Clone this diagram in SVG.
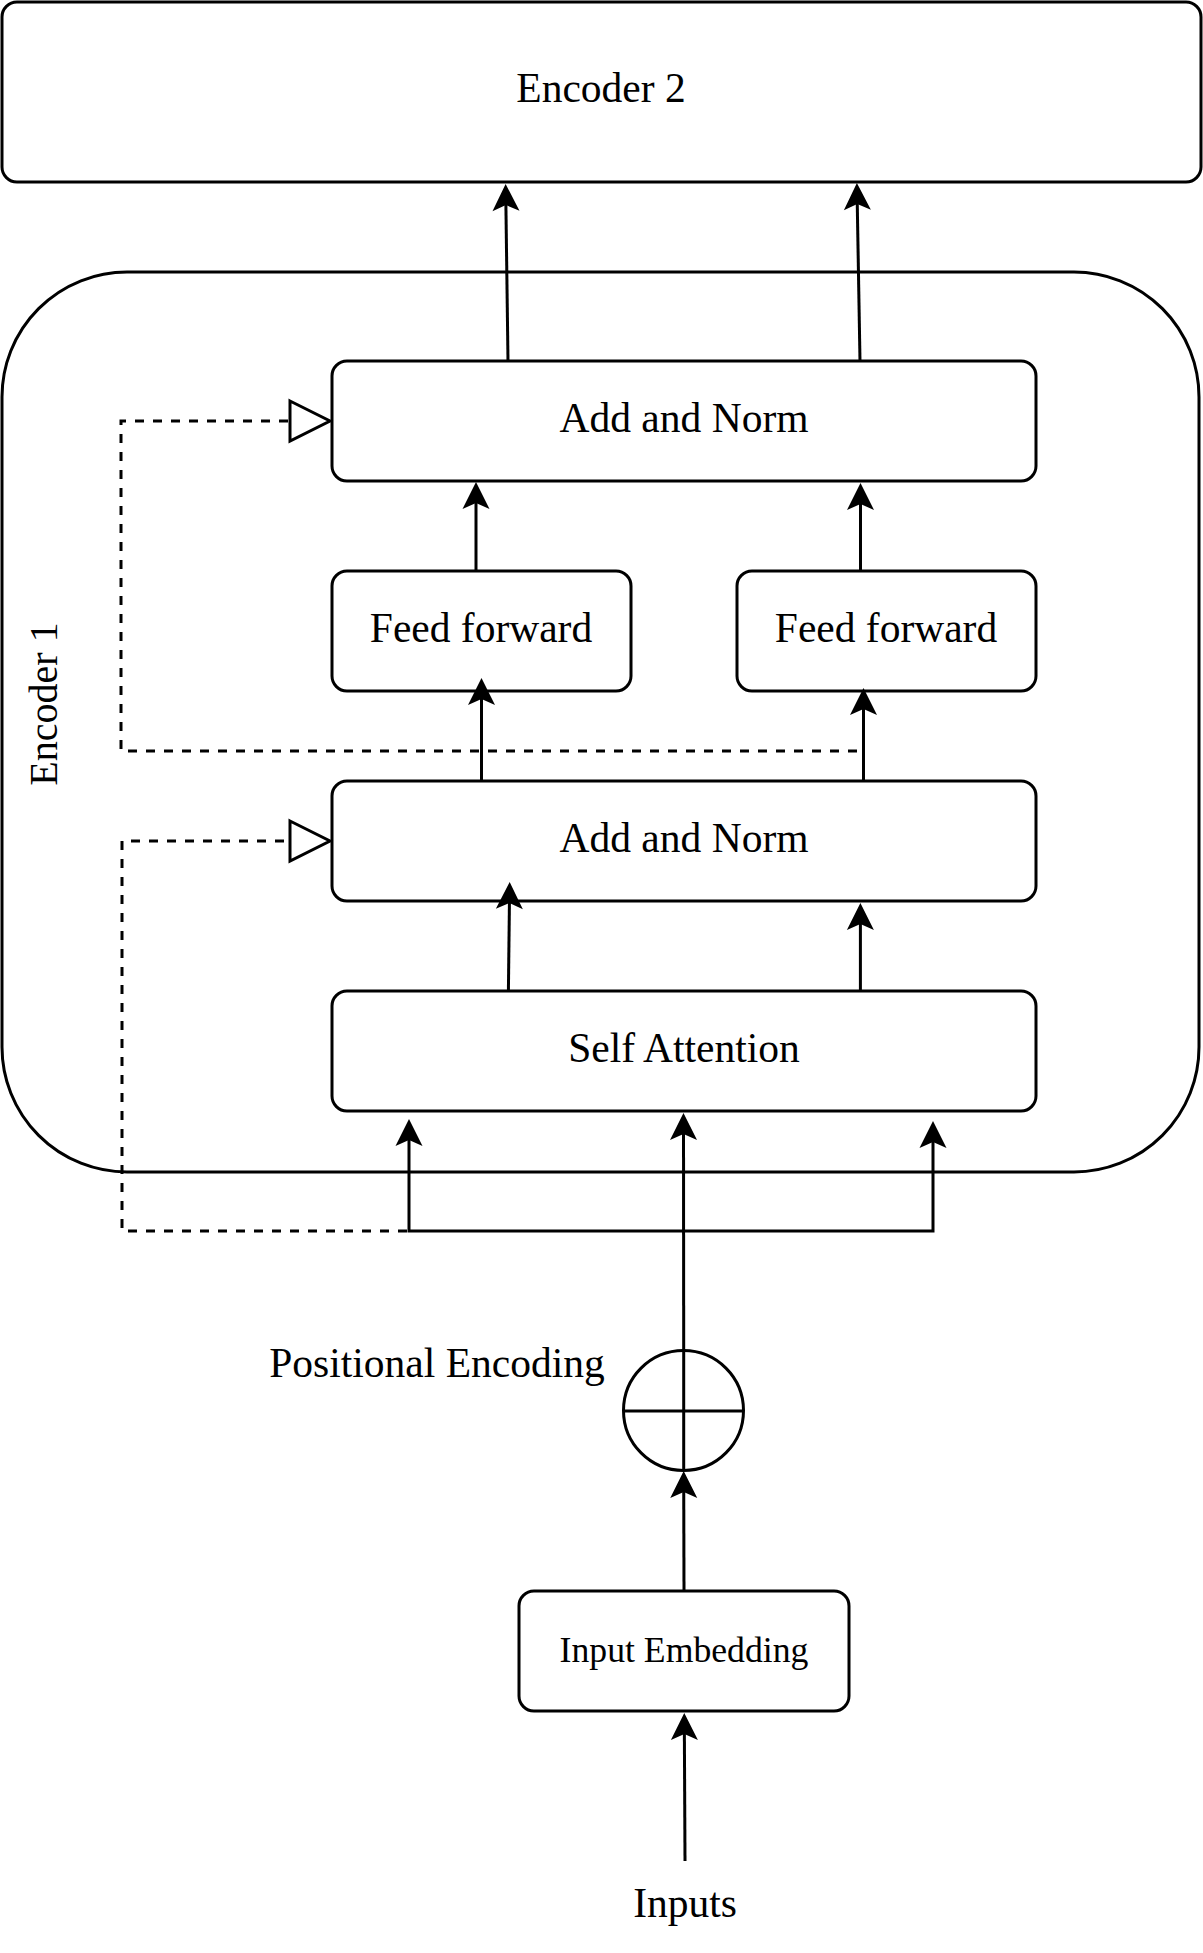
<svg xmlns="http://www.w3.org/2000/svg" width="1203" height="1953" viewBox="0 0 1203 1953">
<style>
.box{fill:#ffffff;stroke:#000000;stroke-width:3}
.lbl{font-family:"Liberation Serif","Times New Roman",serif;font-size:41.5px;fill:#000000;text-anchor:middle}
.conn{fill:none;stroke:#000000;stroke-width:3}
.dash{fill:none;stroke:#000000;stroke-width:3;stroke-dasharray:9 9}
</style>
<defs>
<marker id="arrow" markerUnits="userSpaceOnUse" markerWidth="28" markerHeight="28" viewBox="0 0 28 28" refX="21" refY="13.5" orient="auto" overflow="visible">
<path d="M27,13.5 L0,0 L6,13.5 L0,27 Z" fill="#000000" stroke="none"/>
</marker>
<marker id="tri" markerUnits="userSpaceOnUse" markerWidth="44" markerHeight="44" viewBox="0 0 44 44" refX="1.5" refY="21.5" orient="auto" overflow="visible">
<path d="M1.5,1.5 L41.5,21.5 L1.5,41.5 Z" fill="#ffffff" stroke="#000000" stroke-width="3" stroke-dasharray="none"/>
</marker>
</defs>
<rect width="1203" height="1953" fill="#ffffff"/>

<g id="encoder1">
<rect x="2" y="272" width="1197" height="900" rx="125" ry="125" fill="#ffffff" stroke="#000000" stroke-width="3"/>
<text class="lbl" style="font-size:40px" transform="translate(57,704) rotate(-90)">Encoder 1</text>
</g>

<g id="encoder2">
<rect class="box" x="2" y="2" width="1199" height="180" rx="15" ry="15"/>
<text class="lbl" x="601" y="102">Encoder 2</text>
</g>

<g id="addnorm2">
<rect class="box" x="332" y="361" width="704" height="120" rx="15" ry="15"/>
<text class="lbl" x="684" y="432">Add and Norm</text>
</g>

<g id="ff1">
<rect class="box" x="332" y="571" width="299" height="120" rx="15" ry="15"/>
<text class="lbl" x="481" y="642">Feed forward</text>
</g>

<g id="ff2">
<rect class="box" x="737" y="571" width="299" height="120" rx="15" ry="15"/>
<text class="lbl" x="886" y="642">Feed forward</text>
</g>

<g id="addnorm1">
<rect class="box" x="332" y="781" width="704" height="120" rx="15" ry="15"/>
<text class="lbl" x="684" y="852">Add and Norm</text>
</g>

<g id="selfattention">
<rect class="box" x="332" y="991" width="704" height="120" rx="15" ry="15"/>
<text class="lbl" x="684" y="1062">Self Attention</text>
</g>

<g id="posenc">
<circle cx="683.5" cy="1410.5" r="60" fill="#ffffff" stroke="#000000" stroke-width="3"/>
<line x1="623.5" y1="1411" x2="743.5" y2="1411" stroke="#000000" stroke-width="3"/>
<line x1="683.7" y1="1350.5" x2="683.7" y2="1470.5" stroke="#000000" stroke-width="3"/>
<text class="lbl" x="437" y="1377">Positional Encoding</text>
</g>

<g id="inputembedding">
<rect class="box" x="519" y="1591" width="330" height="120" rx="15" ry="15"/>
<text class="lbl" style="font-size:35.7px" x="684" y="1662">Input Embedding</text>
</g>

<g id="inputs">
<text class="lbl" x="685" y="1917">Inputs</text>
</g>

<g id="connectors">
<path class="conn" d="M508,361 L505.7,190" marker-end="url(#arrow)"/>
<path class="conn" d="M860,361 L857,189" marker-end="url(#arrow)"/>
<path class="conn" d="M476,571 L476,488" marker-end="url(#arrow)"/>
<path class="conn" d="M860.5,571 L860.5,489" marker-end="url(#arrow)"/>
<path class="conn" d="M481.5,781 L481.5,684" marker-end="url(#arrow)"/>
<path class="conn" d="M863.5,781 L863.5,694" marker-end="url(#arrow)"/>
<path class="conn" d="M508.4,991 L509.6,888" marker-end="url(#arrow)"/>
<path class="conn" d="M860.4,991 L860.4,909" marker-end="url(#arrow)"/>
<path class="conn" d="M683.7,1350 L683.5,1119" marker-end="url(#arrow)"/>
<path class="conn" d="M683.7,1231 H409 V1125" marker-end="url(#arrow)"/>
<path class="conn" d="M683.7,1231 H933 V1127" marker-end="url(#arrow)"/>
<path class="conn" d="M684,1591 L683.7,1477" marker-end="url(#arrow)"/>
<path class="conn" d="M685,1861 L684.3,1719" marker-end="url(#arrow)"/>
<path class="dash" d="M857,751 H121 V421 H290" marker-end="url(#tri)"/>
<path class="dash" d="M407,1231 H122 V841 H290" marker-end="url(#tri)"/>
</g>
</svg>
